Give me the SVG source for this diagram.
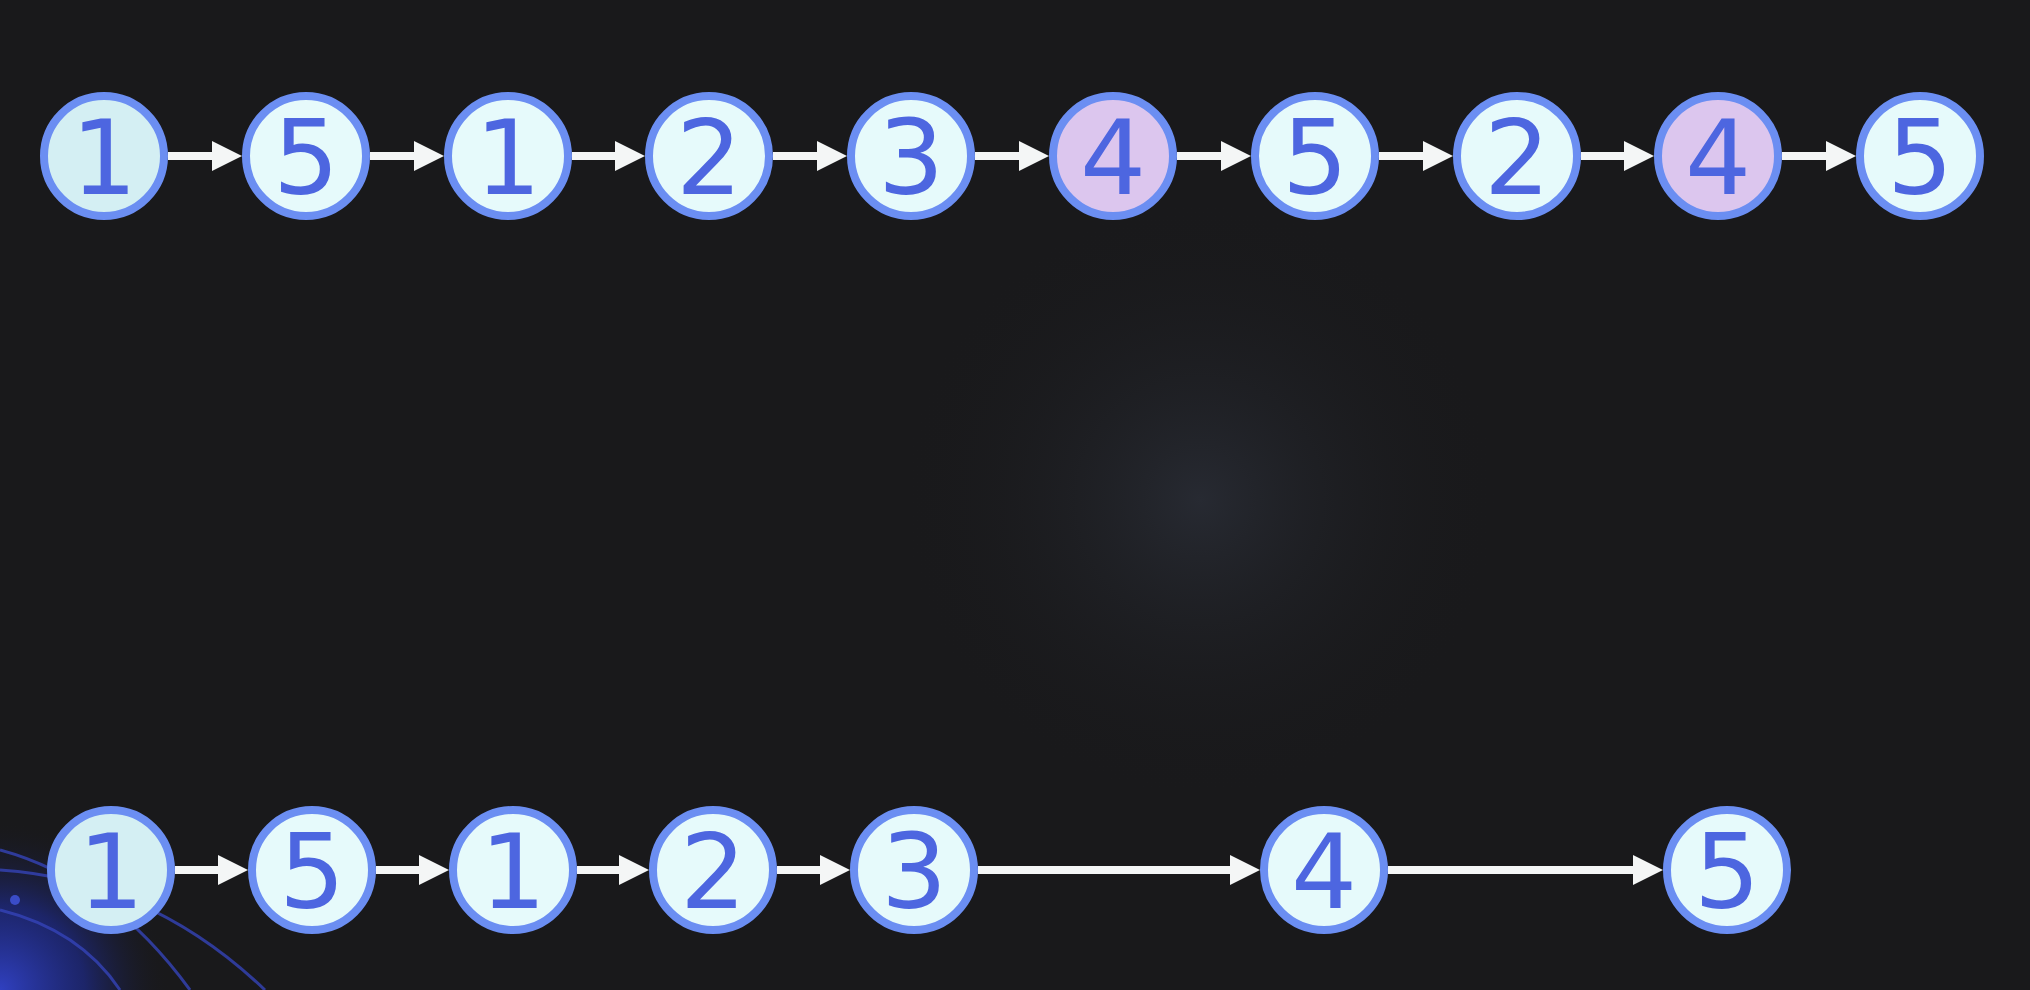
<svg xmlns="http://www.w3.org/2000/svg" width="2030" height="990" viewBox="0 0 2030 990">
<style>
.n circle{fill:#e6fafb;stroke:#6b8ef2;stroke-width:8}
.n.p circle{fill:#dcc6ee}
.n.d circle{fill:#d4eff3}
.n text{font-family:"DejaVu Sans","Liberation Sans",sans-serif;font-size:104px;fill:#4d66e0;text-anchor:middle;dominant-baseline:central}
.c line{stroke:#f4f6f6;stroke-width:8;marker-end:url(#ah)}
.arc{fill:none;stroke:#3444b8;stroke-width:3;opacity:0.8}
</style>
<defs>
<marker id="ah" markerUnits="userSpaceOnUse" markerWidth="32" markerHeight="32" refX="14" refY="15" orient="auto" overflow="visible"><path d="M0,0 L30,15 L0,30 z" fill="#f4f6f6"/></marker>
<radialGradient id="bl" cx="0" cy="990" r="170" gradientUnits="userSpaceOnUse"><stop offset="0" stop-color="#3040c0"/><stop offset="0.5" stop-color="#1e2a8a" stop-opacity="0.7"/><stop offset="1" stop-color="#19191b" stop-opacity="0"/></radialGradient>
<radialGradient id="g1" cx="1200" cy="500" r="300" gradientUnits="userSpaceOnUse"><stop offset="0" stop-color="#272a32"/><stop offset="1" stop-color="#19191b" stop-opacity="0"/></radialGradient>
</defs>
<rect width="2030" height="990" fill="#19191b"/>
<rect width="2030" height="990" fill="url(#g1)"/>
<rect width="2030" height="990" fill="url(#bl)"/>
<path class="arc" d="M0,850 Q110,880 190,990"/>
<path class="arc" d="M0,870 Q150,880 265,990"/>
<path class="arc" d="M0,910 Q80,930 120,990"/>
<circle cx="15" cy="900" r="5" fill="#3a4cc8"/>
<g id="connectors" class="c">
<line x1="168" y1="156" x2="226" y2="156"/>
<line x1="370" y1="156" x2="428" y2="156"/>
<line x1="572" y1="156" x2="629" y2="156"/>
<line x1="773" y1="156" x2="831" y2="156"/>
<line x1="975" y1="156" x2="1033" y2="156"/>
<line x1="1177" y1="156" x2="1235" y2="156"/>
<line x1="1379" y1="156" x2="1437" y2="156"/>
<line x1="1581" y1="156" x2="1638" y2="156"/>
<line x1="1782" y1="156" x2="1840" y2="156"/>
<line x1="175" y1="870" x2="232" y2="870"/>
<line x1="376" y1="870" x2="433" y2="870"/>
<line x1="577" y1="870" x2="633" y2="870"/>
<line x1="777" y1="870" x2="834" y2="870"/>
<line x1="978" y1="870" x2="1244" y2="870"/>
<line x1="1388" y1="870" x2="1647" y2="870"/>
</g>
<g id="t1" class="n d"><circle cx="104" cy="156" r="60"/><text x="104" y="158">1</text></g>
<g id="t2" class="n"><circle cx="306" cy="156" r="60"/><text x="306" y="158">5</text></g>
<g id="t3" class="n"><circle cx="508" cy="156" r="60"/><text x="508" y="158">1</text></g>
<g id="t4" class="n"><circle cx="709" cy="156" r="60"/><text x="709" y="158">2</text></g>
<g id="t5" class="n"><circle cx="911" cy="156" r="60"/><text x="911" y="158">3</text></g>
<g id="t6" class="n p"><circle cx="1113" cy="156" r="60"/><text x="1113" y="158">4</text></g>
<g id="t7" class="n"><circle cx="1315" cy="156" r="60"/><text x="1315" y="158">5</text></g>
<g id="t8" class="n"><circle cx="1517" cy="156" r="60"/><text x="1517" y="158">2</text></g>
<g id="t9" class="n p"><circle cx="1718" cy="156" r="60"/><text x="1718" y="158">4</text></g>
<g id="t10" class="n"><circle cx="1920" cy="156" r="60"/><text x="1920" y="158">5</text></g>
<g id="b1" class="n d"><circle cx="111" cy="870" r="60"/><text x="111" y="872">1</text></g>
<g id="b2" class="n"><circle cx="312" cy="870" r="60"/><text x="312" y="872">5</text></g>
<g id="b3" class="n"><circle cx="513" cy="870" r="60"/><text x="513" y="872">1</text></g>
<g id="b4" class="n"><circle cx="713" cy="870" r="60"/><text x="713" y="872">2</text></g>
<g id="b5" class="n"><circle cx="914" cy="870" r="60"/><text x="914" y="872">3</text></g>
<g id="b6" class="n"><circle cx="1324" cy="870" r="60"/><text x="1324" y="872">4</text></g>
<g id="b7" class="n"><circle cx="1727" cy="870" r="60"/><text x="1727" y="872">5</text></g>
</svg>
